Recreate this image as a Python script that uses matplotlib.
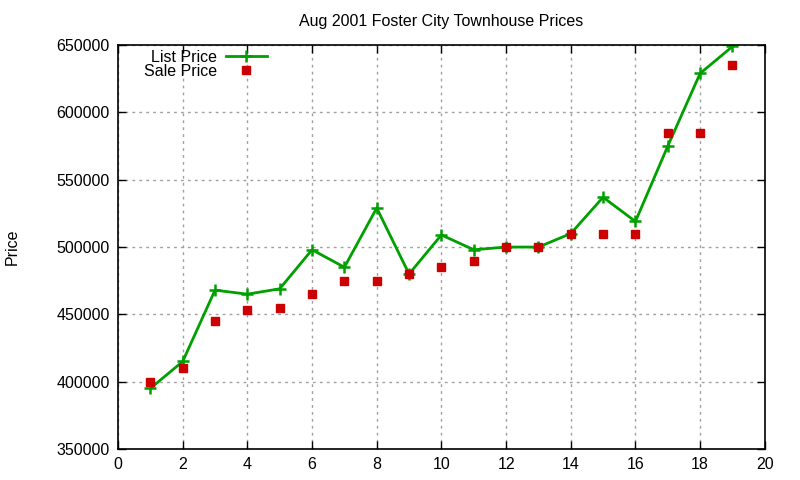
import matplotlib
matplotlib.use("Agg")
import matplotlib.pyplot as plt

plt.rcParams["font.family"] = ["Liberation Sans", "DejaVu Sans"]

units = list(range(1, 20))
list_price = [395000, 415000, 468000, 465000, 469000, 498000, 485000, 529000, 480000,
              509000, 498000, 500000, 500000, 510000, 537000, 519000, 575000, 629000, 649000]
sale_price = [400000, 410000, 445000, 453000, 455000, 465000, 475000, 475000, 480000,
              485000, 490000, 500000, 500000, 510000, 510000, 510000, 585000, 585000, 635000]

fig = plt.figure(figsize=(8, 4.8), dpi=100)
ax = fig.add_axes([0.1475, 0.0646, 0.8085, 0.8414])

ax.plot(units, list_price, color="#00a000", linewidth=2, marker="+", markersize=8,
        markeredgewidth=1.8, label="List Price")
ax.plot(units, sale_price, linestyle="none", marker="s", markersize=6, color="#cc0000",
        label="Sale Price")

ax.set_xlim(0, 20)
ax.set_ylim(350000, 650000)
ax.set_xticks(range(0, 21, 2))
ax.set_yticks(range(350000, 650001, 50000))
ax.tick_params(direction="in", length=6, width=1, top=True, right=True, labelsize=11.5, pad=6)
ax.grid(True, color="#a0a0a0", linestyle=(0, (2, 3)), linewidth=1)
for s in ax.spines.values():
    s.set_linewidth(1.2)

ax.set_title("Aug 2001 Foster City Townhouse Prices", fontsize=11.5, pad=14)
ax.set_ylabel("Price", fontsize=11.5, labelpad=26)

ax.legend(loc="upper left", markerfirst=False, frameon=False, fontsize=11.5,
          handlelength=2.6, handletextpad=0.55, labelspacing=-0.05, borderpad=0.1,
          bbox_to_anchor=(0.025, 1.012))

fig.savefig("out.png", dpi=100)
